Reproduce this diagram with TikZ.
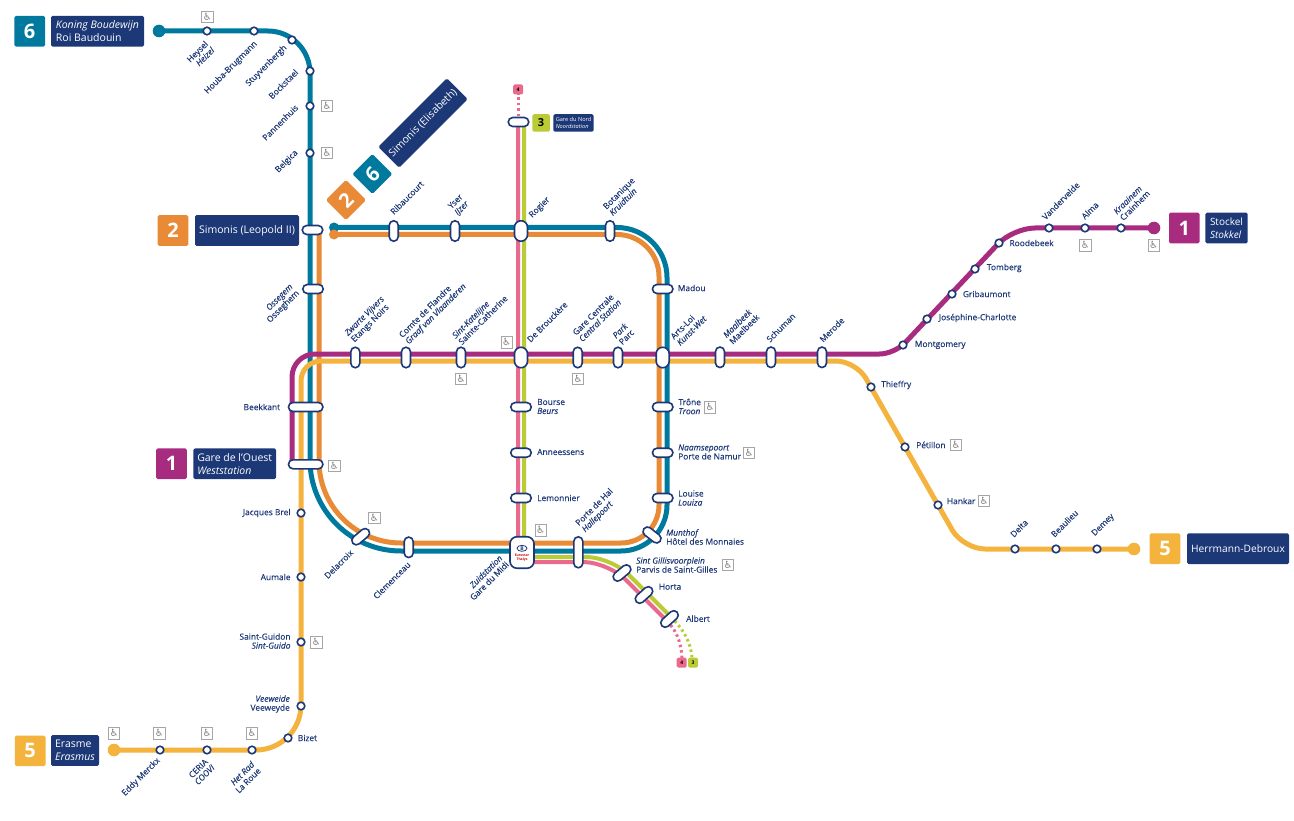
\documentclass[tikz,border=0pt]{standalone}
\usepackage{fontspec}
\setmainfont{Open Sans}
\newfontfamily\lblfont{Open Sans}[FakeBold=0.2]
\newfontfamily\wcfont{DejaVu Sans}
\usetikzlibrary{shapes.misc,shapes.geometric}
\definecolor{navy}{HTML}{1C3876}
\definecolor{lineone}{HTML}{A72B7F}
\definecolor{linetwo}{HTML}{E98A36}
\definecolor{linethree}{HTML}{BBCB35}
\definecolor{linefour}{HTML}{E96A8D}
\definecolor{linefive}{HTML}{F3B33D}
\definecolor{linesix}{HTML}{00799F}
\newcommand{\wheel}{\wcfont\char"267F}
\newcommand{\ital}[1]{{\itshape #1}}
\tikzset{
	metro/.style={line width=5pt},
	thin metro/.style={line width=4pt},
	dotline/.style={line width=3pt,dash pattern=on 2.5pt off 3pt},
	stn/.style={draw=navy,fill=white,line width=1.6pt,rounded rectangle,inner sep=0pt,outer sep=0pt,minimum width=20.5pt,minimum height=9pt},
	wide/.style={minimum width=34.5pt},
	halt/.style={draw=navy,fill=white,line width=1.6pt,circle,inner sep=0pt,outer sep=0pt,minimum size=7.6pt},
	lbl/.style={text=navy,font=\lblfont\fontsize{8.4}{9}\selectfont,inner sep=0pt,align=left,anchor=west},
	lblr/.style={lbl,align=right,anchor=east},
	up/.style={lbl,rotate=45},
	down/.style={lblr,rotate=45},
	wc/.style={draw=gray!70,line width=0.6pt,text=gray,inner sep=0pt,minimum size=11.5pt,font=\fontsize{10}{10}\selectfont},
	term/.style={circle,inner sep=0pt,minimum size=12.6pt},
	num/.style={rounded corners=1.5pt,text=white,inner sep=0pt,minimum size=30.6pt,font=\fontsize{20}{20}\selectfont\bfseries},
	dest/.style={fill=navy,rounded corners=1.5pt,text=white,inner sep=0pt,minimum height=30.6pt,align=left,font=\fontsize{10.5}{13}\selectfont},
}
\begin{document}
\begin{tikzpicture}[x=1pt,y=-1pt]
	\useasboundingbox (0,0) rectangle (1294,821);
	% line ends and bends
	\coordinate (roi) at (159,31);
	\coordinate (bendsixa) at (310,31);
	\coordinate (bendsixb) at (310,551);
	\coordinate (bendsixc) at (667,551);
	\coordinate (bendsixd) at (667,227.5);
	\coordinate (elisabethsix) at (334,227.5);
	\coordinate (leopold) at (319,230);
	\coordinate (bendtwoa) at (319,543);
	\coordinate (bendtwob) at (659,543);
	\coordinate (bendtwoc) at (659,234.5);
	\coordinate (elisabethtwo) at (334,234.5);
	\coordinate (stockel) at (1154,228);
	\coordinate (bendonea) at (1013,228);
	\coordinate (bendoneb) at (894.5,354);
	\coordinate (bendonec) at (292,354);
	\coordinate (ouest) at (292,464);
	\coordinate (herrmann) at (1134,549);
	\coordinate (bendfivea) at (963,549);
	\coordinate (bendfiveb) at (856,361);
	\coordinate (bendfivec) at (301,361);
	\coordinate (bendfived) at (301,750);
	\coordinate (erasme) at (114,750);
	\coordinate (nordfour) at (518,122);
	\coordinate (nordthree) at (524,122);
	\coordinate (bendfoura) at (518,562);
	\coordinate (bendfourb) at (608,562);
	\coordinate (albertfour) at (667,621);
	\coordinate (bendthreea) at (524,557);
	\coordinate (bendthreeb) at (611,557);
	\coordinate (albertthree) at (671,617);
	\coordinate (endfour) at (682,658);
	\coordinate (endthree) at (692,658);
	\coordinate (topfour) at (518,94);

	% lines
	\draw[metro,linetwo] (leopold) [rounded corners=82pt] -- (bendtwoa) [rounded corners=38pt] -- (bendtwob) [rounded corners=42pt] -- (bendtwoc) -- (elisabethtwo);
	\draw[metro,linesix] (roi) [rounded corners=42pt] -- (bendsixa) [rounded corners=91pt] -- (bendsixb) [rounded corners=46pt] -- (bendsixc) [rounded corners=50pt] -- (bendsixd) -- (elisabethsix);
	\draw[thin metro,linefour] (nordfour) -- (bendfoura) [rounded corners=25pt] -- (bendfourb) -- (albertfour);
	\draw[thin metro,linethree] (nordthree) -- (bendthreea) [rounded corners=25pt] -- (bendthreeb) -- (albertthree);
	\draw[metro,lineone] (stockel) [rounded corners=22pt] -- (bendonea) [rounded corners=15pt] -- (bendoneb) [rounded corners=23pt] -- (bendonec) -- (ouest);
	\draw[metro,linefive] (herrmann) [rounded corners=22pt] -- (bendfivea) [rounded corners=20pt] -- (bendfiveb) [rounded corners=20pt] -- (bendfivec) [rounded corners=45pt] -- (bendfived) -- (erasme);
	\draw[dotline,linefour] (nordfour) -- (topfour);
	\draw[dotline,linefour] (albertfour) .. controls (675,629) and (681,640) .. (endfour);
	\draw[dotline,linethree] (albertthree) .. controls (683,629) and (691,642) .. (endthree);

	% line ends
	\node[term,fill=linesix] (roiend) at (roi) {};
	\node[term,fill=linesix,minimum size=10pt] (sixend) at (elisabethsix) {};
	\node[term,fill=linetwo,minimum size=10pt] (twoend) at (elisabethtwo) {};
	\node[term,fill=lineone] (stockelend) at (stockel) {};
	\node[term,fill=linefive] (herrmannend) at (herrmann) {};
	\node[term,fill=linefive] (erasmeend) at (erasme) {};

	% stations on one line
	\node[halt] (heysel) at (207,31) {};
	\node[halt] (houba) at (254,31) {};
	\node[halt] (stuyvenbergh) at (292,40) {};
	\node[halt] (bockstael) at (310,71) {};
	\node[halt] (pannenhuis) at (310,106) {};
	\node[halt] (belgica) at (310,153) {};
	\node[halt] (vandervelde) at (1049,228) {};
	\node[halt] (alma) at (1085,228) {};
	\node[halt] (kraainem) at (1121,228) {};
	\node[halt] (roodebeek) at (999,243) {};
	\node[halt] (tomberg) at (975,269) {};
	\node[halt] (gribaumont) at (952,294) {};
	\node[halt] (josephine) at (927,319) {};
	\node[halt] (montgomery) at (903,345) {};
	\node[halt] (thieffry) at (871,387) {};
	\node[halt] (petillon) at (905,447) {};
	\node[halt] (hankar) at (938,505) {};
	\node[halt] (delta) at (1015,549) {};
	\node[halt] (beaulieu) at (1056,549) {};
	\node[halt] (demey) at (1097,549) {};
	\node[halt] (brel) at (301,513) {};
	\node[halt] (aumale) at (301,577) {};
	\node[halt] (guidon) at (301,642) {};
	\node[halt] (veeweyde) at (301,706) {};
	\node[halt] (bizet) at (288,738) {};
	\node[halt] (roue) at (252,750) {};
	\node[halt] (ceria) at (207,750) {};
	\node[halt] (merckx) at (160,750) {};

	% stations on two lines
	\node[stn] (simonis) at (312.5,230) {};
	\node[stn] (ossegem) at (313,289) {};
	\node[stn,rotate=90] (ribaucourt) at (393.7,231) {};
	\node[stn,rotate=90] (yser) at (455,231) {};
	\node[stn,rotate=90,minimum height=13pt] (rogier) at (521,231) {};
	\node[stn,rotate=90] (botanique) at (610,231) {};
	\node[stn] (madou) at (662.7,289) {};
	\node[stn,rotate=90] (vijvers) at (355.3,357.5) {};
	\node[stn,rotate=90] (flandre) at (406,357.5) {};
	\node[stn,rotate=90] (catherine) at (461,357.5) {};
	\node[stn,rotate=90,minimum height=13pt] (brouckere) at (521,357.5) {};
	\node[stn,rotate=90] (centrale) at (577.7,357.5) {};
	\node[stn,rotate=90] (park) at (618,357.5) {};
	\node[stn,rotate=90,minimum height=13pt] (artsloi) at (662.7,357.5) {};
	\node[stn,rotate=90] (maalbeek) at (720,357.3) {};
	\node[stn,rotate=90] (schuman) at (771,357.3) {};
	\node[stn,rotate=90] (merode) at (822,357.3) {};
	\node[stn,wide] (beekkant) at (305.7,407) {};
	\node[stn,wide] (westation) at (305.7,464.3) {};
	\node[stn,rotate=40] (delacroix) at (360.7,536.7) {};
	\node[stn,rotate=90] (clemenceau) at (408.7,547.3) {};
	\node[stn] (bourse) at (521,407) {};
	\node[stn] (anneessens) at (521,452.7) {};
	\node[stn] (lemonnier) at (521,498) {};
	\node[stn] (trone) at (662.7,407) {};
	\node[stn] (namur) at (662.7,452.7) {};
	\node[stn] (louise) at (662.7,498) {};
	\node[stn,rotate=-38] (munthof) at (652,535) {};
	\node[stn,rotate=90,minimum width=31pt] (hal) at (578.3,552.3) {};
	\node[stn,rotate=40] (parvis) at (622,573) {};
	\node[stn,rotate=42] (horta) at (644,595) {};
	\node[stn,rotate=42] (albert) at (669.5,619) {};
	\node[stn] (nord) at (518.5,122) {};
	\node[draw=navy,fill=white,line width=1.6pt,rounded corners=7pt,inner sep=0pt,minimum width=24pt,minimum height=31.5pt] (midi) at (522,552.5) {};
	\node[draw=navy,ellipse,line width=0.8pt,inner sep=0pt,minimum width=10pt,minimum height=6pt,text=navy,font=\fontsize{5}{5}\selectfont\bfseries] (snk) at (522,548.3) {B};
	\node[text=red!80!black,inner sep=0pt,align=center,font=\fontsize{3.4}{4}\selectfont\bfseries] (thalys) at (522,557.5) {Eurostar\\Thalys};

	% station names, level
	\node[lbl] (lmadou) at (677.7,288) {Madou};
	\node[lbl] (lbourse) at (537,406.5) {Bourse\\\ital{Beurs}};
	\node[lbl] (lanneessens) at (537,452) {Anneessens};
	\node[lbl] (llemonnier) at (537,498) {Lemonnier};
	\node[lbl] (ltrone) at (678.3,406.5) {Trône\\\ital{Troon}};
	\node[lbl] (lnamur) at (678,452) {\ital{Naamsepoort}\\Porte de Namur};
	\node[lbl] (llouise) at (678,498) {Louise\\\ital{Louiza}};
	\node[lbl] (lmunthof) at (666,537) {\ital{Munthof}\\Hôtel des Monnaies};
	\node[lbl] (lparvis) at (636,565) {\ital{Sint Gillisvoorplein}\\Parvis de Saint-Gilles};
	\node[lbl] (lhorta) at (658.7,586.7) {Horta};
	\node[lbl] (lalbert) at (686,618.7) {Albert};
	\node[lbl] (lmontgomery) at (914.7,345) {Montgomery};
	\node[lbl] (lthieffry) at (881,385) {Thieffry};
	\node[lbl] (ljosephine) at (938.7,318) {Joséphine-Charlotte};
	\node[lbl] (lgribaumont) at (962.7,294) {Gribaumont};
	\node[lbl] (ltomberg) at (986.7,268) {Tomberg};
	\node[lbl] (lroodebeek) at (1009.3,243) {Roodebeek};
	\node[lbl] (lpetillon) at (916,445) {Pétillon};
	\node[lbl] (lhankar) at (946.7,501) {Hankar};
	\node[lbl] (lbizet) at (297.7,738) {Bizet};
	\node[lblr] (lbeekkant) at (280.3,407) {Beekkant};
	\node[lblr] (lbrel) at (290.7,513) {Jacques Brel};
	\node[lblr] (laumale) at (290.7,577) {Aumale};
	\node[lblr] (lguidon) at (290.7,641) {Saint-Guidon\\\ital{Sint-Guido}};
	\node[lblr] (lveeweyde) at (290,704) {\ital{Veeweide}\\Veeweyde};

	% station names, rising from the line
	\node[up] (lribaucourt) at (391.7,213) {Ribaucourt};
	\node[up] (lyser) at (453,211) {Yser\\\ital{IJzer}};
	\node[up] (lrogier) at (530.7,216.7) {Rogier};
	\node[up] (lbotanique) at (607.5,211) {Botanique\\\ital{Kruidtuin}};
	\node[up] (lvijvers) at (349.7,338) {\ital{Zwarte Vijvers}\\Etangs Noirs};
	\node[up] (lflandre) at (404,340) {Comte de Flandre\\\ital{Graaf van Vlaanderen}};
	\node[up] (lcatherine) at (456.5,340) {\ital{Sint-Katelijne}\\Sainte-Catherine};
	\node[up] (lbrouckere) at (528.3,340.7) {De Brouckère};
	\node[up] (lcentrale) at (577,337) {Gare Centrale\\\ital{Central Station}};
	\node[up] (lpark) at (617,340) {\ital{Park}\\Parc};
	\node[up] (lartsloi) at (675,341) {Arts-Loi\\\ital{Kunst-Wet}};
	\node[up] (lmaalbeek) at (727.5,339.5) {\ital{Maalbeek}\\Maelbeek};
	\node[up] (lschuman) at (767.7,340.7) {Schuman};
	\node[up] (lmerode) at (821,340.7) {Merode};
	\node[up] (lvandervelde) at (1043.3,218.3) {Vandervelde};
	\node[up] (lalma) at (1082.7,217.7) {Alma};
	\node[up] (lkraainem) at (1118,216) {\ital{Kraainem}\\Crainhem};
	\node[up] (ldelta) at (1011.7,535.7) {Delta};
	\node[up] (lbeaulieu) at (1052.3,535.7) {Beaulieu};
	\node[up] (ldemey) at (1093.3,535) {Demey};
	\node[up] (lhal) at (580.5,528) {Porte de Hal\\\ital{Hallepoort}};

	% station names, rising to the line
	\node[down] (lheysel) at (209.7,45.5) {Heysel\\\ital{Heizel}};
	\node[down] (lhouba) at (256,42.7) {Houba-Brugmann};
	\node[down] (lstuyvenbergh) at (285.7,46.7) {Stuyvenbergh};
	\node[down] (lbockstael) at (296.7,70.7) {Bockstael};
	\node[down] (lpannenhuis) at (296.7,106) {Pannenhuis};
	\node[down] (lbelgica) at (296.7,151.7) {Belgica};
	\node[down] (lossegem) at (295,289) {\ital{Ossegem}\\Osseghem};
	\node[down] (ldelacroix) at (351.7,551) {Delacroix};
	\node[down] (lclemenceau) at (409,563) {Clemenceau};
	\node[down] (lmidi) at (504,559.7) {\ital{Zuidstation}\\Gare du Midi};
	\node[down] (lmerckx) at (159,759.3) {Eddy Merckx};
	\node[down,align=center] (lceria) at (210,763) {CERIA\\\ital{COOVI}};
	\node[down] (lroue) at (256,766) {\ital{Het Rad}\\La Roue};

	% wheelchair signs
	\node[wc] (wcheysel) at (207.3,16.7) {\wheel};
	\node[wc] (wcpannenhuis) at (327,106) {\wheel};
	\node[wc] (wcbelgica) at (327,152.7) {\wheel};
	\node[wc] (wcbrouckere) at (506.7,342.3) {\wheel};
	\node[wc] (wccatherine) at (461,379) {\wheel};
	\node[wc] (wccentrale) at (578,379) {\wheel};
	\node[wc] (wcwestation) at (334.3,465.7) {\wheel};
	\node[wc] (wcdelacroix) at (374.3,517.7) {\wheel};
	\node[wc] (wctrone) at (710,407.3) {\wheel};
	\node[wc] (wcnamur) at (749,452.7) {\wheel};
	\node[wc] (wcparvis) at (728,565) {\wheel};
	\node[wc] (wcmidi) at (540.7,530.3) {\wheel};
	\node[wc] (wcpetillon) at (956,445) {\wheel};
	\node[wc] (wchankar) at (984,501) {\wheel};
	\node[wc] (wcalma) at (1085.3,245.3) {\wheel};
	\node[wc] (wcstockel) at (1153.7,245.3) {\wheel};
	\node[wc] (wcguidon) at (316.3,642.3) {\wheel};
	\node[wc] (wcerasme) at (114,733.3) {\wheel};
	\node[wc] (wcmerckx) at (159.3,733.3) {\wheel};
	\node[wc] (wcceria) at (207,733.3) {\wheel};
	\node[wc] (wcroue) at (252,733.3) {\wheel};

	% line numbers and terminus plates
	\node[num,fill=linesix] (numsix) at (29.7,31.3) {6};
	\node[dest,minimum width=93pt] (destroi) at (97.5,31.3) {\ital{Koning Boudewijn}\\Roi Baudouin};
	\node[num,fill=linetwo] (numtwo) at (173,230.5) {2};
	\node[dest,minimum width=104pt] (destleopold) at (247,230.5) {Simonis (Leopold II)};
	\node[num,fill=lineone] (numone) at (171.5,463.7) {1};
	\node[dest,minimum width=82.7pt] (destouest) at (234.7,463.7) {Gare de l’Ouest\\\ital{Weststation}};
	\node[num,fill=linefive] (numfive) at (30.2,750.8) {5};
	\node[dest,minimum width=48pt] (desterasme) at (75,750.5) {Erasme\\\ital{Erasmus}};
	\node[num,fill=lineone] (numonee) at (1184.3,228) {1};
	\node[dest,minimum width=42.4pt,font=\fontsize{10}{13}\selectfont] (deststockel) at (1226.5,228) {Stockel\\\ital{Stokkel}};
	\node[num,fill=linefive] (numfivee) at (1165,548.7) {5};
	\node[dest,minimum width=102pt,font=\fontsize{10.2}{13}\selectfont] (destherrmann) at (1238,548.7) {Herrmann-Debroux};
	\node[num,fill=linethree,text=black,minimum size=17.5pt,font=\fontsize{11}{11}\selectfont\bfseries] (numthree) at (541,123) {3};
	\node[dest,minimum width=40.4pt,minimum height=17.5pt,font=\fontsize{5.6}{7.6}\selectfont] (destnord) at (573.5,123) {Gare du Nord\\\ital{Noordstation}};
	\node[num,fill=linefour,text=black,minimum size=10pt,font=\fontsize{5}{5}\selectfont\bfseries] (numfour) at (518,89.5) {4};
	\node[num,fill=linefour,text=black,minimum size=10pt,font=\fontsize{5}{5}\selectfont\bfseries] (numfours) at (681.7,662.7) {4};
	\node[num,fill=linethree,text=black,minimum size=10pt,font=\fontsize{5}{5}\selectfont\bfseries] (numthrees) at (693,662.7) {3};
	\node[num,fill=linetwo,rotate=45,minimum size=28.3pt] (numtwod) at (346,200) {2};
	\node[num,fill=linesix,rotate=45,minimum size=28.3pt] (numsixd) at (372.3,174) {6};
	\node[dest,rotate=45,minimum width=97pt,minimum height=29.5pt,align=center,font=\fontsize{10.4}{13}\selectfont] (destelisabeth) at (423,123) {Simonis (Elisabeth)};
\end{tikzpicture}
\end{document}
